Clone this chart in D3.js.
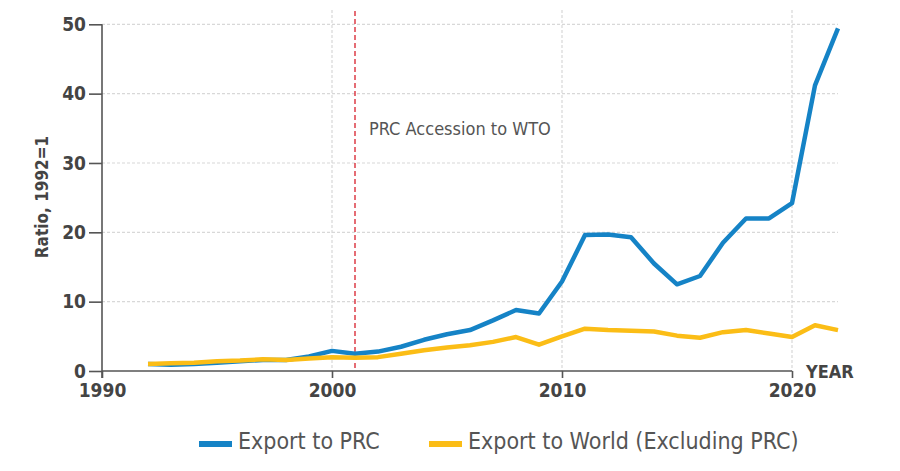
<!DOCTYPE html>
<html><head><meta charset="utf-8">
<script src="https://cdn.jsdelivr.net/npm/d3@7/dist/d3.min.js"></script>
<style>
html,body{margin:0;padding:0;background:#fff;}
svg text{font-family:"DejaVu Sans Condensed","Liberation Sans Narrow",sans-serif;}
</style></head>
<body><svg id="c" width="900" height="471"></svg>
<script>
const years = d3.range(1992, 2023);
const exportPRC = [1.0,0.9,1.0,1.2,1.4,1.6,1.6,2.1,2.9,2.5,2.8,3.5,4.5,5.3,5.9,7.3,8.8,8.3,12.9,19.6,19.7,19.3,15.5,12.5,13.7,18.5,22.0,22.0,24.2,41.2,49.4];
const exportWorld = [1.0,1.1,1.2,1.4,1.5,1.7,1.6,1.8,2.0,1.9,2.0,2.5,3.0,3.4,3.7,4.2,4.9,3.8,5.0,6.1,5.9,5.8,5.7,5.1,4.8,5.6,5.9,5.4,4.9,6.6,5.9];
const xTicks = [1990,2000,2010,2020];
const yTicks = [0,10,20,30,40,50];
const seriesNames = ["Export to PRC","Export to World (Excluding PRC)"];
const colors = ["#1583c6","#fbbd16"];
const wtoYear = 2001;

const svg = d3.select("#c");
const x = d3.scaleLinear().domain([1990,2020]).range([102,792]);
const y = d3.scaleLinear().domain([0,50]).range([371,24.3]);
const gridRight = x(2022);

// horizontal grid
svg.append("g").selectAll("line").data(yTicks.filter(d=>d>0)).join("line")
  .attr("x1",x(1990)).attr("x2",gridRight).attr("y1",d=>y(d)).attr("y2",d=>y(d))
  .attr("stroke","#d8d8d8").attr("stroke-width",1.2).attr("stroke-dasharray","3,2");
// vertical grid
svg.append("g").selectAll("line").data(xTicks.filter(d=>d>1990)).join("line")
  .attr("x1",d=>x(d)).attr("x2",d=>x(d)).attr("y1",10).attr("y2",y(0))
  .attr("stroke","#d8d8d8").attr("stroke-width",1.2).attr("stroke-dasharray","3,2");

// WTO line
svg.append("line").attr("x1",x(wtoYear)).attr("x2",x(wtoYear)).attr("y1",11).attr("y2",y(0))
  .attr("stroke","#d71f2b").attr("stroke-width",1.3).attr("stroke-dasharray","5,3");
svg.append("text").attr("x",x(wtoYear)+14).attr("y",135).text("PRC Accession to WTO")
  .attr("font-size",18).attr("fill","#555");

// series (world drawn on top, as in the reference)
const line = d3.line().x((d,i)=>x(years[i])).y(d=>y(d));
[[exportPRC,colors[0]],[exportWorld,colors[1]]].forEach(([s,c])=>{
  svg.append("path").datum(s).attr("d",line).attr("fill","none")
    .attr("stroke",c).attr("stroke-width",4.5).attr("stroke-linejoin","round");
});

// axes
const yAxis = svg.append("g").attr("transform",`translate(${x(1990)},0)`)
  .call(d3.axisLeft(y).tickValues(yTicks).tickSize(13).tickPadding(3));
const xAxis = svg.append("g").attr("transform",`translate(0,${y(0)})`)
  .call(d3.axisBottom(x).tickValues(xTicks).tickSize(7).tickFormat(d3.format("d")).tickPadding(6));
[yAxis,xAxis].forEach(a=>{
  a.select(".domain").attr("stroke","#555").attr("stroke-width",1.6);
  a.selectAll(".tick line").attr("stroke","#555").attr("stroke-width",1.6);
  a.selectAll(".tick text").attr("fill","#444").attr("font-size",19).attr("font-weight","bold")
    .style("font-family",'"DejaVu Sans Condensed","Liberation Sans Narrow",sans-serif');
});
yAxis.select(".domain").attr("d",`M0,${y(50)}V${y(0)+7}`);
xAxis.select(".domain").attr("d",`M${x(1990)},0H${x(2020)}`);

svg.append("text").attr("x",806).attr("y",378).text("YEAR")
  .attr("font-size",18).attr("font-weight","bold").attr("fill","#444");
svg.append("text").attr("transform","translate(48,197) rotate(-90)").attr("text-anchor","middle")
  .text("Ratio, 1992=1").attr("font-size",17).attr("font-weight","bold").attr("fill","#444");

// legend
const legX = [199, 429];
seriesNames.forEach((n,i)=>{
  svg.append("rect").attr("x",legX[i]).attr("y",441).attr("width",33).attr("height",6).attr("fill",colors[i]);
  svg.append("text").attr("x",legX[i]+39).attr("y",449).text(n)
    .attr("font-size",23).attr("fill","#555");
});
</script></body></html>
